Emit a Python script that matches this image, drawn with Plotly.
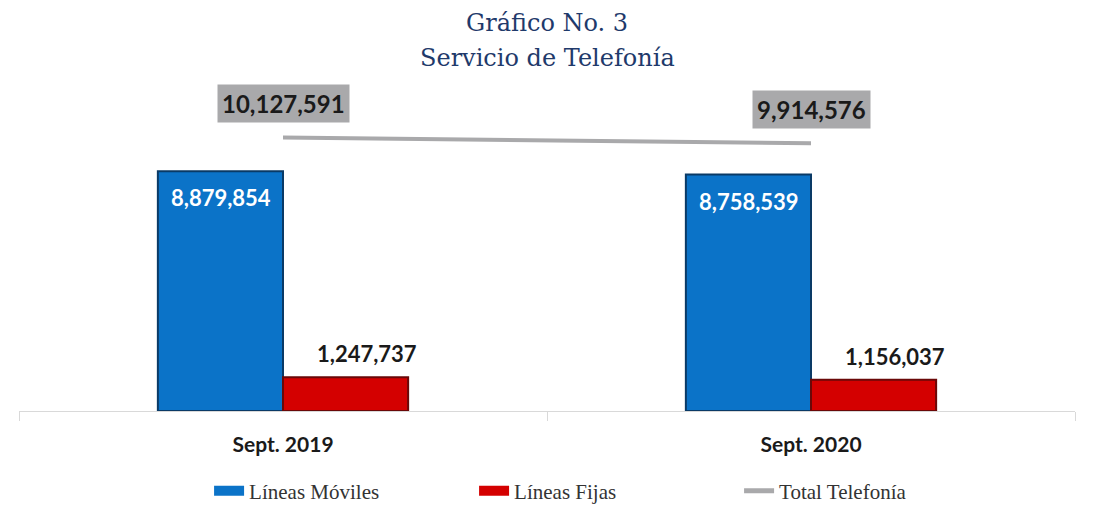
import plotly.graph_objects as go

periodos = ["Sept. 2019", "Sept. 2020"]
moviles = [8879854, 8758539]
fijas = [1247737, 1156037]
total = [10127591, 9914576]

BLUE = "#0B73C8"
BLUE_DARK = "#0A3A66"
RED = "#D40000"
RED_DARK = "#6A0808"
GRAY = "#A9A9AB"


def fmt(v):
    return f"{v:,}"


fig = go.Figure()

fig.add_trace(go.Bar(
    x=periodos, y=moviles, name="Líneas Móviles", showlegend=False,
    marker=dict(color=BLUE, line=dict(color=BLUE_DARK, width=2)),
))
fig.add_trace(go.Bar(
    x=periodos, y=fijas, name="Líneas Fijas", showlegend=False,
    marker=dict(color=RED, line=dict(color=RED_DARK, width=2)),
))
fig.add_trace(go.Scatter(
    x=periodos, y=total, name="Total Telefonía", mode="lines",
    line=dict(color=GRAY, width=4), showlegend=False,
))

# legend proxies (wide rectangular keys like the original)
fig.add_trace(go.Scatter(x=[None], y=[None], mode="lines", name="Líneas Móviles",
                         line=dict(color=BLUE, width=10)))
fig.add_trace(go.Scatter(x=[None], y=[None], mode="lines", name="Líneas Fijas",
                         line=dict(color=RED, width=10)))
fig.add_trace(go.Scatter(x=[None], y=[None], mode="lines", name="Total Telefonía",
                         line=dict(color=GRAY, width=5)))

# blue value labels, white inside the top of the bars
for x, v in zip(periodos, moviles):
    fig.add_annotation(
        x=x, y=v, text=f"<b>{fmt(v)}</b>", showarrow=False,
        xanchor="center", yanchor="top", xshift=-62, yshift=-11,
        font=dict(family="Lato", size=22, color="white"),
    )

# red value labels, above and slightly right of the bars
for x, v in zip(periodos, fijas):
    fig.add_annotation(
        x=x, y=v, text=f"<b>{fmt(v)}</b>", showarrow=False,
        xanchor="center", yanchor="bottom", xshift=84, yshift=8,
        font=dict(family="Lato", size=22, color="#1a1a1a"),
    )

# total labels in grey boxes
for x, v in zip(periodos, total):
    fig.add_annotation(
        x=x, y=v, text=f"<b>{fmt(v)}</b>", showarrow=False, yshift=34,
        font=dict(family="Lato", size=24, color="#1a1a1a"),
        bgcolor=GRAY, borderpad=4,
    )

# two-line title
fig.add_annotation(
    xref="paper", yref="paper", x=0.5, y=1.3064, yanchor="middle",
    text="Gráfico No. 3", showarrow=False,
    font=dict(family="DejaVu Serif", size=24, color="#1F3A6B"),
)
fig.add_annotation(
    xref="paper", yref="paper", x=0.5, y=1.1886, yanchor="middle",
    text="Servicio de Telefonía", showarrow=False,
    font=dict(family="DejaVu Serif", size=24, color="#1F3A6B"),
)

fig.update_layout(
    width=1086, height=497,
    paper_bgcolor="white", plot_bgcolor="white",
    margin=dict(l=11, r=19, t=106, b=94),
    barmode="group", bargap=0.526, bargroupgap=0,
    showlegend=True,
    legend=dict(
        orientation="h", xref="paper", x=0.18, xanchor="left",
        yref="container", y=0.028, yanchor="middle",
        font=dict(family="Liberation Serif", size=21, color="#333333"),
        entrywidth=220, itemwidth=30,
    ),
    xaxis=dict(
        showline=True, linecolor="#D9D9D9", linewidth=1,
        ticks="outside", tickson="boundaries", ticklen=9, tickcolor="#D9D9D9",
        tickfont=dict(family="Lato", size=21, color="#1a1a1a", weight="bold"),
        ticklabelstandoff=15,
    ),
    yaxis=dict(range=[0, 11000000], visible=False, showgrid=False),
)

fig.write_html("out.html")
